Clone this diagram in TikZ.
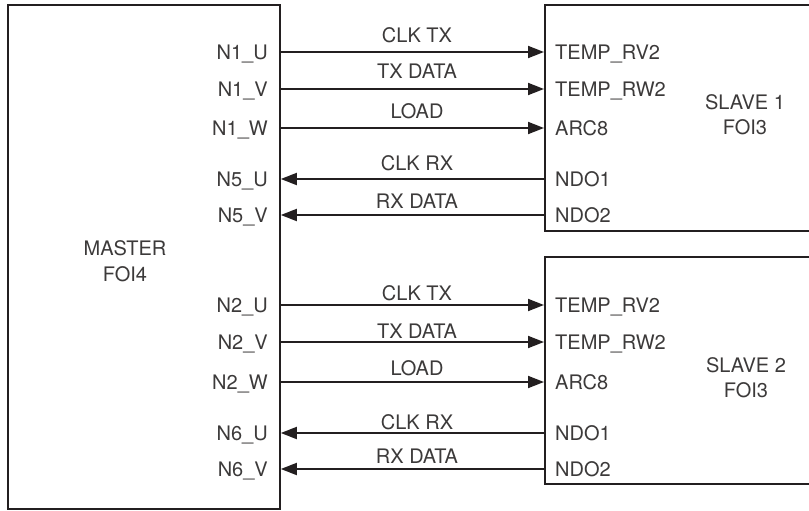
\documentclass[tikz,border=0pt]{standalone}
\usepackage{fontspec}
\setmainfont{TeX Gyre Heros}
\usetikzlibrary{arrows.meta}
\definecolor{ink}{RGB}{35,31,32}
\definecolor{textink}{RGB}{60,58,58}
\begin{document}
\begin{tikzpicture}[x=1pt,y=-1pt,
  box/.style={draw=ink, line width=1.8pt, inner sep=0pt, anchor=north west},
  txt/.style={text=textink, inner sep=0pt, font=\fontsize{20}{24}\selectfont},
  pinL/.style={txt, anchor=east, text height=14.4pt, text depth=0pt},
  pinR/.style={txt, anchor=west, text height=14.4pt, text depth=0pt},
  sig/.style={txt, anchor=base},
  title/.style={txt, anchor=base},
  wire/.style={draw=ink, line width=1.8pt},
  tx/.style={wire, -{Triangle[length=16pt,width=12pt]}},
  rx/.style={wire, {Triangle[length=16pt,width=12pt]}-}
]
\useasboundingbox (0,0) rectangle (809,511);

% boxes
\node[box, minimum width=272pt, minimum height=504pt] (master) at (7,4) {};
\node[box, minimum width=266pt, minimum height=226pt] (slaveA) at (544,4) {};
\node[box, minimum width=266pt, minimum height=227pt] (slaveB) at (544,256) {};

% titles
\node[title] (mt1) at (125,255) {MASTER};
\node[title] (mt2) at (125,281) {FOI4};
\node[title] (sa1) at (745,110) {SLAVE 1};
\node[title] (sa2) at (745,135) {FOI3};
\node[title] (sb1) at (746,372) {SLAVE 2};
\node[title] (sb2) at (746,397) {FOI3};

% master pins
\node[pinL] (m1) at (268,52)  {N1\_U};
\node[pinL] (m2) at (268,89)  {N1\_V};
\node[pinL] (m3) at (268,128) {N1\_W};
\node[pinL] (m4) at (268,179) {N5\_U};
\node[pinL] (m5) at (268,215) {N5\_V};
\node[pinL] (m6) at (268,305) {N2\_U};
\node[pinL] (m7) at (268,342) {N2\_V};
\node[pinL] (m8) at (268,382) {N2\_W};
\node[pinL] (m9) at (268,433) {N6\_U};
\node[pinL] (m10) at (268,469) {N6\_V};

% slave pins
\node[pinR] (a1) at (555,52)  {TEMP\_RV2};
\node[pinR] (a2) at (555,89)  {TEMP\_RW2};
\node[pinR] (a3) at (555,128) {ARC8};
\node[pinR] (a4) at (555,179) {NDO1};
\node[pinR] (a5) at (555,215) {NDO2};
\node[pinR] (b1) at (555,305) {TEMP\_RV2};
\node[pinR] (b2) at (555,342) {TEMP\_RW2};
\node[pinR] (b3) at (555,382) {ARC8};
\node[pinR] (b4) at (555,433) {NDO1};
\node[pinR] (b5) at (555,469) {NDO2};

% connectors
\draw[tx] (m1.east -| master.east) -- (a1.west -| slaveA.west);
\draw[tx] (m2.east -| master.east) -- (a2.west -| slaveA.west);
\draw[tx] (m3.east -| master.east) -- (a3.west -| slaveA.west);
\draw[rx] (m4.east -| master.east) -- (a4.west -| slaveA.west);
\draw[rx] (m5.east -| master.east) -- (a5.west -| slaveA.west);
\draw[tx] (m6.east -| master.east) -- (b1.west -| slaveB.west);
\draw[tx] (m7.east -| master.east) -- (b2.west -| slaveB.west);
\draw[tx] (m8.east -| master.east) -- (b3.west -| slaveB.west);
\draw[rx] (m9.east -| master.east) -- (b4.west -| slaveB.west);
\draw[rx] (m10.east -| master.east) -- (b5.west -| slaveB.west);

% signal labels
\node[sig] (l1) at (417,43)  {CLK TX};
\node[sig] (l2) at (417,79)  {TX DATA};
\node[sig] (l3) at (417,118) {LOAD};
\node[sig] (l4) at (417,170) {CLK RX};
\node[sig] (l5) at (417,208) {RX DATA};
\node[sig] (l6) at (417,300) {CLK TX};
\node[sig] (l7) at (417,338) {TX DATA};
\node[sig] (l8) at (417,375) {LOAD};
\node[sig] (l9) at (417,429) {CLK RX};
\node[sig] (l10) at (417,463) {RX DATA};
\end{tikzpicture}
\end{document}
